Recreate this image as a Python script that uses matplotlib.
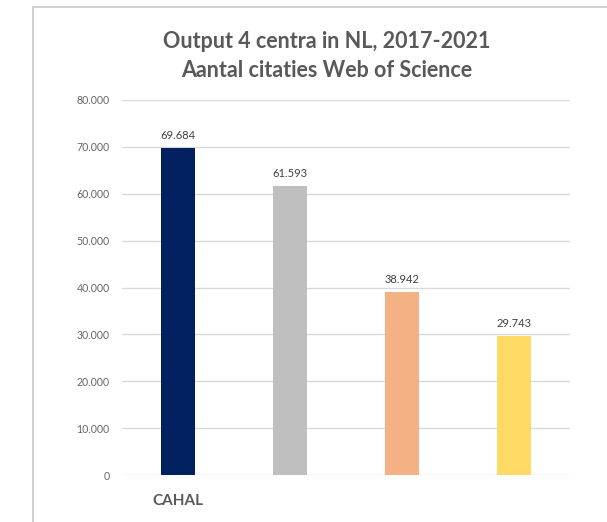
import numpy as np
import matplotlib.pyplot as plt
from matplotlib.ticker import FuncFormatter
from matplotlib.patches import Rectangle

# Data
centra = ['CAHAL', '', '', '']
citaties = [69684, 61593, 38942, 29743]
kleuren = ['#002060', '#BFBFBF', '#F4B183', '#FFD966']
titel = 'Output 4 centra in NL, 2017-2021\nAantal citaties Web of Science'


def fmt_nl(x, pos=None):
    return f"{int(x):,}".replace(',', '.')


plt.rcParams['font.family'] = ['Lato', 'DejaVu Sans']

fig = plt.figure(figsize=(6.07, 5.22), dpi=100)
fig.patch.set_facecolor('white')

# chart area frame (cut off on the right and bottom)
frame = Rectangle((33 / 607, -0.05), 1.0, 1 - 6.5 / 522 + 0.05,
                  transform=fig.transFigure, fill=False,
                  edgecolor='#D0D0D0', linewidth=1.4, clip_on=False)
fig.add_artist(frame)

ax = fig.add_axes([122 / 607, 1 - 475 / 522, 448 / 607, 375 / 522])

x = np.arange(len(citaties))
ax.bar(x, citaties, width=0.31, color=kleuren, zorder=3)
ax.set_xlim(-0.5, len(citaties) - 0.5)
ax.set_ylim(0, 80000)
ax.set_yticks(np.arange(0, 80001, 10000))
ax.yaxis.set_major_formatter(FuncFormatter(fmt_nl))
ax.grid(True, axis='y', color='#D9D9D9', linewidth=1.0, zorder=0)

for s in ax.spines.values():
    s.set_visible(False)
ax.tick_params(axis='y', length=0, labelsize=7.6, labelcolor='#666666', pad=9)
ax.tick_params(axis='x', length=0, pad=14)
ax.set_xticks(x)
ax.set_xticklabels(centra, fontsize=11, fontweight='bold', color='#595959')

for xi, v in zip(x, citaties):
    ax.text(xi, v + 1500, fmt_nl(v), ha='center', va='bottom',
            fontsize=8, color='#404040')

fig.text(0.5 + 23 / 607, 1 - 56 / 522, titel, ha='center', va='center',
         fontsize=15.5, fontweight='bold', color='#595959', linespacing=1.45)

fig.savefig('out.png', dpi=100)
